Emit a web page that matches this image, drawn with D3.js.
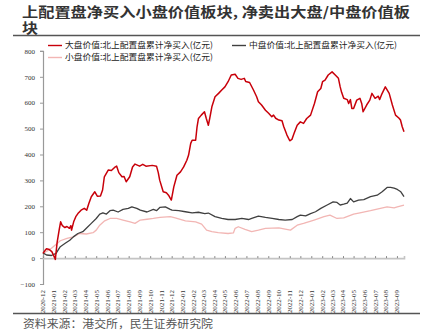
<!DOCTYPE html>
<html>
<head>
<meta charset="utf-8">
<script src="https://cdn.jsdelivr.net/npm/d3@7"></script>
<style>
  html, body { margin: 0; padding: 0; background: #fff; }
  svg { display: block; }
</style>
</head>
<body>
<svg id="chart" width="427" height="331"></svg>
<script>
// 北上配置盘累计净买入（亿元）— 大盘/中盘/小盘价值
const titleLines = ["上配置盘净买入小盘价值板块, 净卖出大盘/中盘价值板", "块"];
const sourceText = "资料来源：港交所，民生证券研究院";
const seriesNames = [
  "大盘价值:北上配置盘累计净买入(亿元)",
  "中盘价值:北上配置盘累计净买入(亿元)",
  "小盘价值:北上配置盘累计净买入(亿元)"
];

const yTicks = [-100, 0, 100, 200, 300, 400, 500, 600, 700, 800];
const xTickLabels = [
  "2020-12","2021-01","2021-02","2021-03","2021-04","2021-05","2021-06","2021-07",
  "2021-08","2021-09","2021-10","2021-11","2021-12","2022-01","2022-02","2022-03",
  "2022-04","2022-05","2022-06","2022-07","2022-08","2022-09","2022-10","2022-11",
  "2022-12","2023-01","2023-02","2023-03","2023-04","2023-05","2023-06","2023-07",
  "2023-08","2023-09"
];
const xStart = "2020-12-01";
const xEnd = "2023-09-21";

// 大盘价值
const largeDates = [
  "2020-12-01","2020-12-07","2020-12-11","2020-12-19","2020-12-26","2021-01-03","2021-01-05","2021-01-10",
  "2021-01-16","2021-01-20","2021-01-25","2021-02-01","2021-02-07","2021-02-14","2021-02-18","2021-02-20",
  "2021-02-26","2021-03-04","2021-03-10","2021-03-19","2021-03-28","2021-04-04","2021-04-10","2021-04-17",
  "2021-04-27","2021-05-04","2021-05-13","2021-05-19","2021-05-24","2021-06-04","2021-06-13","2021-06-22",
  "2021-06-28","2021-07-04","2021-07-13","2021-07-19","2021-07-25","2021-08-04","2021-08-12","2021-08-19",
  "2021-09-01","2021-09-10","2021-09-19","2021-10-07","2021-10-19","2021-10-24","2021-10-28","2021-11-07",
  "2021-11-16","2021-11-22","2021-11-30","2021-12-07","2021-12-16","2021-12-26","2022-01-04","2022-01-13",
  "2022-01-18","2022-01-24","2022-01-28","2022-02-07","2022-02-11","2022-02-15","2022-02-23","2022-03-04",
  "2022-03-09","2022-03-15","2022-03-19","2022-03-25","2022-04-03","2022-04-13","2022-04-22","2022-05-01",
  "2022-05-10","2022-05-19","2022-05-30","2022-06-07","2022-06-16","2022-06-25","2022-06-29","2022-07-10",
  "2022-07-21","2022-07-30","2022-08-04","2022-08-13","2022-08-24","2022-09-02","2022-09-11","2022-09-16",
  "2022-09-22","2022-10-01","2022-10-10","2022-10-15","2022-10-24","2022-11-01","2022-11-07","2022-11-13",
  "2022-11-22","2022-12-01","2022-12-10","2022-12-19","2022-12-30","2023-01-10","2023-01-19","2023-01-28",
  "2023-02-02","2023-02-09","2023-02-18","2023-03-01","2023-03-10","2023-03-19","2023-03-24","2023-03-28",
  "2023-04-03","2023-04-13","2023-04-17","2023-04-22","2023-04-26","2023-05-01","2023-05-10","2023-05-19",
  "2023-05-24","2023-05-28","2023-06-07","2023-06-16","2023-06-22","2023-07-01","2023-07-10","2023-07-14",
  "2023-07-19","2023-07-30","2023-08-10","2023-08-19","2023-08-28","2023-09-07","2023-09-11","2023-09-16",
  "2023-09-21"
];
const largeValues = [
  18,30,36,33,25,2,-5,60,
  110,140,125,118,122,115,125,108,
  140,160,172,185,192,185,211,237,
  256,239,240,263,314,340,338,350,
  355,330,314,315,295,314,352,363,
  355,362,355,358,355,330,301,256,
  252,243,224,275,320,333,352,378,
  398,443,455,455,507,539,552,565,
  540,513,540,584,623,636,649,661,
  681,707,710,694,690,694,682,678,
  649,623,604,591,571,559,546,552,
  540,533,530,507,475,453,458,481,
  513,526,520,539,552,597,642,655,
  681,687,707,719,707,694,661,640,
  617,612,597,612,578,578,610,617,
  597,565,591,610,636,617,625,612,
  630,661,636,591,552,540,533,507,
  488
];

// 中盘价值
const midDates = [
  "2020-12-01","2020-12-11","2020-12-25","2021-01-07","2021-01-19","2021-02-02","2021-02-15","2021-02-25",
  "2021-03-10","2021-03-24","2021-04-03","2021-04-17","2021-05-01","2021-05-11","2021-05-20","2021-05-30",
  "2021-06-09","2021-06-18","2021-07-02","2021-07-16","2021-07-31","2021-08-10","2021-08-24","2021-09-03",
  "2021-09-22","2021-10-10","2021-10-19","2021-10-29","2021-11-13","2021-11-27","2021-12-02","2021-12-21",
  "2022-01-09","2022-01-28","2022-02-15","2022-03-05","2022-03-15","2022-04-03","2022-04-22","2022-05-10",
  "2022-05-30","2022-06-18","2022-07-07","2022-07-16","2022-08-04","2022-08-24","2022-09-12","2022-10-01",
  "2022-10-19","2022-11-08","2022-11-22","2022-12-01","2022-12-16","2022-12-30","2023-01-13","2023-01-28",
  "2023-02-15","2023-03-04","2023-03-15","2023-03-24","2023-04-03","2023-04-13","2023-04-22","2023-05-01",
  "2023-05-15","2023-05-30","2023-06-18","2023-07-07","2023-07-21","2023-08-04","2023-08-14","2023-08-24",
  "2023-09-02","2023-09-12","2023-09-21"
];
const midValues = [
  20,12,10,18,44,57,69,82,
  95,102,115,134,153,170,175,170,
  183,185,178,188,192,198,192,185,
  178,188,183,196,198,188,185,183,
  179,175,177,172,174,160,153,149,
  149,153,149,153,162,157,153,149,
  147,149,160,166,163,172,179,192,
  205,217,215,205,208,212,230,217,
  224,226,237,243,256,273,273,270,
  265,256,237
];

// 小盘价值
const smallDates = [
  "2020-12-01","2020-12-13","2020-12-25","2021-01-10","2021-01-19","2021-02-07","2021-02-25","2021-03-15",
  "2021-04-03","2021-04-22","2021-05-01","2021-05-11","2021-05-25","2021-06-09","2021-06-28","2021-07-16",
  "2021-08-05","2021-08-19","2021-09-03","2021-09-22","2021-10-10","2021-10-29","2021-11-27","2021-12-11",
  "2022-01-09","2022-02-07","2022-02-24","2022-03-10","2022-03-25","2022-04-12","2022-05-10","2022-05-25",
  "2022-05-30","2022-06-08","2022-06-27","2022-07-16","2022-08-04","2022-08-24","2022-10-01","2022-10-19",
  "2022-11-03","2022-11-22","2022-12-10","2023-01-09","2023-02-06","2023-02-23","2023-03-15","2023-04-03",
  "2023-05-01","2023-05-19","2023-06-18","2023-07-16","2023-08-04","2023-08-24","2023-09-02","2023-09-21"
];
const smallValues = [
  18,28,38,56,67,76,82,95,
  93,98,108,127,144,153,153,147,
  140,134,147,150,153,157,160,155,
  144,140,131,108,102,98,95,97,
  115,121,111,102,108,115,117,112,
  108,127,134,147,160,166,153,155,
  170,175,183,192,198,194,198,205
];

const colors = ["#c8000a", "#404040", "#f2b6b4"];
const widths = [1.5, 1.3, 1.3];

const svg = d3.select("#chart");
const parse = d3.timeParse("%Y-%m-%d");

// Title block
const title = svg.append("g")
  .attr("font-family", "'Noto Sans CJK SC', sans-serif")
  .attr("font-weight", "bold")
  .attr("font-size", 13.5)
  .attr("fill", "#333");
title.append("text").attr("x", 22).attr("y", 16.5)
  .attr("textLength", 388).attr("lengthAdjust", "spacingAndGlyphs")
  .text(titleLines[0]);
title.append("text").attr("x", 22).attr("y", 32.5)
  .attr("textLength", 16).attr("lengthAdjust", "spacingAndGlyphs")
  .text(titleLines[1]);
svg.append("line").attr("x1", 13).attr("x2", 420).attr("y1", 35.5).attr("y2", 35.5)
  .attr("stroke", "#555").attr("stroke-width", 1.6);

// Scales
const x = d3.scaleTime().domain([parse(xStart), parse(xEnd)]).range([43, 404]);
const y = d3.scaleLinear().domain([-100, 800]).range([284, 50.9]);

// Y axis
const yAxis = svg.append("g").attr("transform", "translate(43,0)")
  .call(d3.axisLeft(y).tickValues(yTicks).tickSize(3).tickPadding(5).tickFormat(d3.format("d")));
yAxis.select(".domain").attr("stroke", "#999").attr("stroke-width", 1.2);
yAxis.selectAll(".tick line").attr("stroke", "#999");
yAxis.selectAll(".tick text")
  .attr("font-family", "'Liberation Serif', serif").attr("font-size", 7).attr("fill", "#333");

// X axis along zero line
const tickDates = xTickLabels.map(s => parse(s + "-01"));
const xAxis = svg.append("g").attr("transform", `translate(0,${y(0)})`)
  .call(d3.axisTop(x).tickValues(tickDates).tickSize(2).tickFormat(""));
xAxis.select(".domain").attr("stroke", "#c4c4c4").attr("stroke-width", 1.6);
xAxis.selectAll(".tick line").attr("stroke", "#888");

// Rotated month labels beneath the plot
svg.append("g")
  .attr("font-family", "'Liberation Serif', serif")
  .attr("font-size", 7)
  .attr("fill", "#333")
  .selectAll("text")
  .data(xTickLabels)
  .join("text")
  .attr("transform", (d, i) => `translate(${x(tickDates[i])},290) rotate(-90)`)
  .attr("text-anchor", "end")
  .attr("dy", "0.35em")
  .text(d => d);

// Lines
const line = d3.line().x(d => x(d.date)).y(d => y(d.value));
const series = [
  { dates: largeDates, values: largeValues },
  { dates: midDates, values: midValues },
  { dates: smallDates, values: smallValues }
];
// small first, then mid, then large on top
[2, 1, 0].forEach(k => {
  const s = series[k];
  const pts = s.dates.map((d, i) => ({ date: parse(d), value: s.values[i] }));
  svg.append("path").datum(pts)
    .attr("d", line)
    .attr("fill", "none")
    .attr("stroke", colors[k])
    .attr("stroke-width", widths[k])
    .attr("stroke-linejoin", "round");
});

// Legend
const legendItems = [
  { name: seriesNames[0], color: colors[0], x: 48, y: 45.5 },
  { name: seriesNames[1], color: colors[1], x: 232, y: 45.5 },
  { name: seriesNames[2], color: colors[2], x: 48, y: 57.5 }
];
const legend = svg.append("g")
  .attr("font-family", "'Noto Sans CJK SC', sans-serif")
  .attr("font-size", 8.5)
  .attr("fill", "#222");
legendItems.forEach(it => {
  legend.append("line").attr("x1", it.x).attr("x2", it.x + 14)
    .attr("y1", it.y).attr("y2", it.y)
    .attr("stroke", it.color).attr("stroke-width", 1.4);
  legend.append("text").attr("x", it.x + 17).attr("y", it.y).attr("dy", "0.35em")
    .attr("textLength", 148).attr("lengthAdjust", "spacingAndGlyphs")
    .text(it.name);
});

// Source
svg.append("line").attr("x1", 13).attr("x2", 420).attr("y1", 313.5).attr("y2", 313.5)
  .attr("stroke", "#555").attr("stroke-width", 1.4);
svg.append("text").attr("x", 23).attr("y", 328)
  .attr("font-family", "'Noto Sans CJK SC', sans-serif")
  .attr("font-size", 11).attr("fill", "#555")
  .attr("textLength", 190).attr("lengthAdjust", "spacingAndGlyphs")
  .text(sourceText);
</script>
</body>
</html>
